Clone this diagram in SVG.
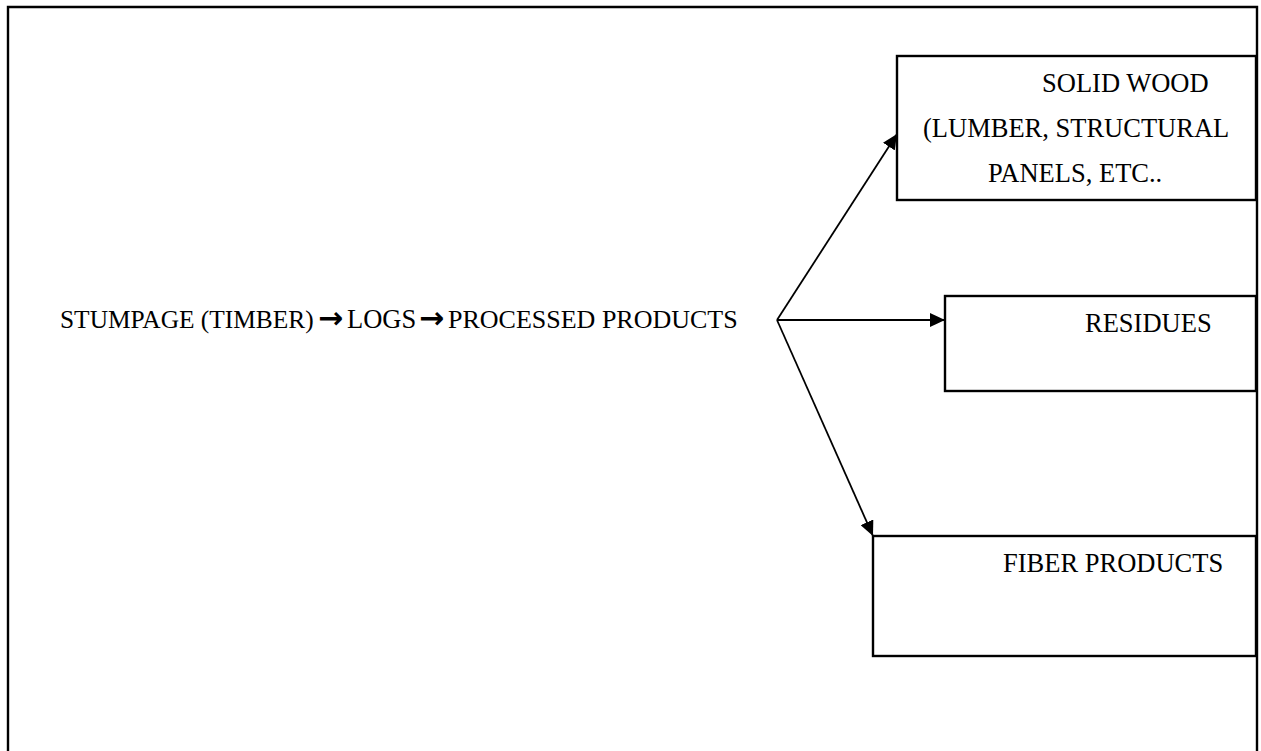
<svg xmlns="http://www.w3.org/2000/svg" width="1261" height="751" viewBox="0 0 1261 751">
<style>
text{font-family:"Liberation Serif","Times New Roman",serif;font-size:26.5px;fill:#000}
.arr{font-family:"DejaVu Sans",sans-serif;font-weight:bold;font-size:30px}
.box{fill:#fff;stroke:#000;stroke-width:2.4}
.conn{stroke:#000;stroke-width:1.8;fill:none}
</style>
<defs>
<marker id="ah" viewBox="0 0 15 14" refX="15" refY="7" markerWidth="15" markerHeight="14" markerUnits="userSpaceOnUse" orient="auto">
<path d="M0,0 L15,7 L0,14 Z" fill="#000"/>
</marker>
</defs>
<rect width="1261" height="751" fill="#fff"/>
<path d="M8,760 L8,7 L1257,7 L1257,760" fill="none" stroke="#000" stroke-width="2.4"/>
<g id="main">
<text y="328"><tspan x="60" font-size="25.4">STUMPAGE (TIMBER)</tspan><tspan class="arr" x="318">→</tspan><tspan x="347">LOGS</tspan><tspan class="arr" x="419">→</tspan><tspan x="448" font-size="26">PROCESSED PRODUCTS</tspan></text>
</g>
<g id="solid-wood">
<rect class="box" x="897" y="56" width="359" height="144"/>
<text x="1042" y="92">SOLID WOOD</text>
<text x="923" y="137">(LUMBER, STRUCTURAL</text>
<text x="988" y="182">PANELS, ETC..</text>
</g>
<g id="residues">
<rect class="box" x="945" y="296" width="311" height="95"/>
<text x="1085" y="332">RESIDUES</text>
</g>
<g id="fiber">
<rect class="box" x="873" y="536" width="383" height="120"/>
<text x="1003" y="572">FIBER PRODUCTS</text>
</g>
<g id="connectors">
<line class="conn" x1="777" y1="320" x2="897" y2="134" marker-end="url(#ah)"/>
<line class="conn" x1="777" y1="320" x2="945" y2="320" marker-end="url(#ah)"/>
<line class="conn" x1="777" y1="320" x2="873" y2="536" marker-end="url(#ah)"/>
</g>
</svg>
